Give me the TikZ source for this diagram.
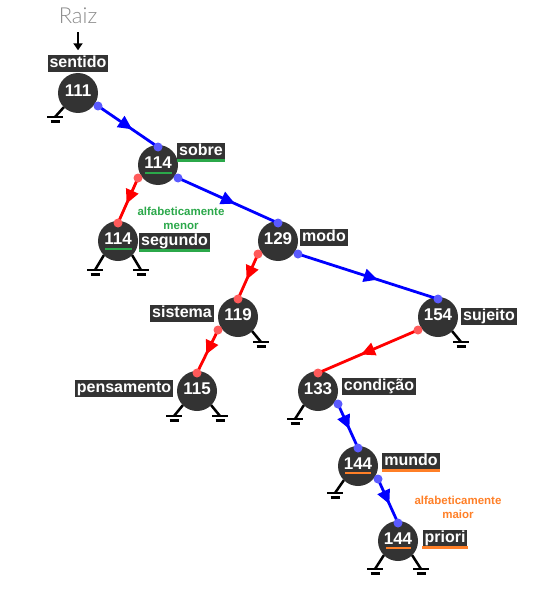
\documentclass[tikz,border=0pt]{standalone}
\usepackage{fontspec}
\setmainfont{Liberation Sans}
\IfFontExistsTF{Lato Light}{\newfontfamily\raizfont{Lato Light}}{\newfontfamily\raizfont{Lato}}
\usetikzlibrary{arrows.meta,calc,decorations.markings}

\definecolor{nodegray}{HTML}{333333}
\definecolor{edgeblue}{HTML}{0000FF}
\definecolor{dotblue}{HTML}{5A5AFF}
\definecolor{edgered}{HTML}{FF0000}
\definecolor{dotred}{HTML}{FF5A5A}
\definecolor{lessgreen}{HTML}{2BA84A}
\definecolor{moreorange}{HTML}{FF7F27}
\definecolor{raizgray}{HTML}{8A8A8A}

\tikzset{
  keynode/.style={circle,fill=nodegray,minimum size=40pt,inner sep=0pt},
  keytext/.style={text=white,font=\fontsize{17}{17}\selectfont\bfseries,inner sep=0pt},
  wordbox/.style={fill=nodegray,text=white,font=\fontsize{16}{16}\selectfont\bfseries,
    inner xsep=2pt,inner ysep=1pt,text height=11.5pt,text depth=3.5pt},
  midarrow/.style={postaction={decorate},decoration={markings,
    mark=at position 0.57 with {\arrow{Triangle[length=14pt,width=13pt]}}}},
  blueedge/.style={color=edgeblue,line width=2.8pt,midarrow},
  rededge/.style={color=edgered,line width=2.8pt,midarrow},
  bluedot/.style={fill=dotblue},
  reddot/.style={fill=dotred},
  gndline/.style={draw=black,line width=2.5pt},
  greenbar/.style={draw=lessgreen,line width=2.5pt},
  orangebar/.style={draw=moreorange,line width=2.5pt},
  notetext/.style={align=center,font=\fontsize{11.5}{14}\selectfont\bfseries,inner sep=0pt},
  rootarrow/.style={-{Triangle[length=7pt,width=9pt]},line width=2pt,black,
    shorten <=8pt,shorten >=5pt},
}

% ground symbol for an empty child: node, side (-1 left / 1 right), bar depth
\newcommand\groundmark[3]{%
  \draw[gndline] ($(#1)+(#2*14,14)$) -- ($(#1)+(#2*23,#3)$);
  \draw[gndline] ($(#1)+(#2*23-8,#3)$) -- ($(#1)+(#2*23+8,#3)$);
  \draw[gndline] ($(#1)+(#2*23-4.5,#3+4.5)$) -- ($(#1)+(#2*23+4.5,#3+4.5)$);
}

% tree edge: colour prefix, parent, side (-1 left / 1 right), child
\newcommand\treeedge[4]{%
  \path ($(#2)+(#3*20,13)$) coordinate (#2#4s) ($(#4)+(0,-18)$) coordinate (#2#4e);
  \draw[#1edge] (#2#4s) -- (#2#4e);
  \fill[#1dot] (#2#4s) circle[radius=4.5pt] (#2#4e) circle[radius=4.5pt];
}

\begin{document}
\begin{tikzpicture}[x=1pt,y=-1pt]
\useasboundingbox (0,0) rectangle (534,591);

% node positions
\coordinate (A) at (78,93);
\coordinate (B) at (158,165);
\coordinate (C) at (118,241);
\coordinate (D) at (278,241);
\coordinate (E) at (238,317);
\coordinate (F) at (438,317);
\coordinate (G) at (197,391);
\coordinate (H) at (318,391);
\coordinate (I) at (358,466);
\coordinate (J) at (398,541);

% empty children
\groundmark{A}{-1}{24}
\groundmark{C}{-1}{29}
\groundmark{C}{1}{29}
\groundmark{E}{1}{25}
\groundmark{F}{1}{25}
\groundmark{G}{-1}{25}
\groundmark{G}{1}{25}
\groundmark{H}{-1}{28}
\groundmark{I}{-1}{27}
\groundmark{J}{-1}{28}
\groundmark{J}{1}{28}

% keys
\node[keynode,label={[keytext,yshift=2pt]center:111}] (kA) at (A) {};
\node[keynode,label={[keytext,yshift=2pt]center:114}] (kB) at (B) {};
\node[keynode,label={[keytext,yshift=2pt]center:114}] (kC) at (C) {};
\node[keynode,label={[keytext,yshift=2pt]center:129}] (kD) at (D) {};
\node[keynode,label={[keytext,yshift=2pt]center:119}] (kE) at (E) {};
\node[keynode,label={[keytext,yshift=2pt]center:154}] (kF) at (F) {};
\node[keynode,label={[keytext,yshift=2pt]center:115}] (kG) at (G) {};
\node[keynode,label={[keytext,yshift=2pt]center:133}] (kH) at (H) {};
\node[keynode,label={[keytext,yshift=2pt]center:144}] (kI) at (I) {};
\node[keynode,label={[keytext,yshift=2pt]center:144}] (kJ) at (J) {};

% equal keys are underlined
\draw[greenbar] ($(B)+(-13,8)$) -- ($(B)+(14,8)$);
\draw[greenbar] ($(C)+(-13,8)$) -- ($(C)+(14,8)$);
\draw[orangebar] ($(I)+(-13,7)$) -- ($(I)+(13,7)$);
\draw[orangebar] ($(J)+(-12,7)$) -- ($(J)+(13,7)$);

% edges
\treeedge{blue}{A}{1}{B}
\treeedge{red}{B}{-1}{C}
\treeedge{blue}{B}{1}{D}
\treeedge{red}{D}{-1}{E}
\treeedge{blue}{D}{1}{F}
\treeedge{red}{E}{-1}{G}
\treeedge{red}{F}{-1}{H}
\treeedge{blue}{H}{1}{I}
\treeedge{blue}{I}{1}{J}

% words
\node[wordbox] (wA) at (78,64) {sentido};
\node[wordbox] (wB) at (201,151) {sobre};
\node[wordbox] (wC) at (174.5,241) {segundo};
\node[wordbox] (wD) at (324,237) {modo};
\node[wordbox] (wE) at (182,313) {sistema};
\node[wordbox] (wF) at (489,316) {sujeito};
\node[wordbox] (wG) at (124,388) {pensamento};
\node[wordbox] (wH) at (379,386) {condição};
\node[wordbox] (wI) at (411,461) {mundo};
\node[wordbox] (wJ) at (445,538) {priori};

\draw[greenbar] ([yshift=-1pt]wB.south west) -- ([yshift=-1pt]wB.south east);
\draw[greenbar] ([yshift=-1pt]wC.south west) -- ([yshift=-1pt]wC.south east);
\draw[orangebar] ([yshift=-1pt]wI.south west) -- ([yshift=-1pt]wI.south east);
\draw[orangebar] ([yshift=-1pt]wJ.south west) -- ([yshift=-1pt]wJ.south east);

% notes
\node[notetext,text=lessgreen] (noteL) at (181,218) {alfabeticamente\\menor};
\node[notetext,text=moreorange] (noteM) at (458,507) {alfabeticamente\\maior};

% root
\node[anchor=base,inner sep=0pt,text=raizgray,font=\raizfont\fontsize{22}{22}\selectfont] (raiz) at (78,24) {Raiz};
\draw[rootarrow] (raiz.south) -- (wA.north);
\end{tikzpicture}
\end{document}
